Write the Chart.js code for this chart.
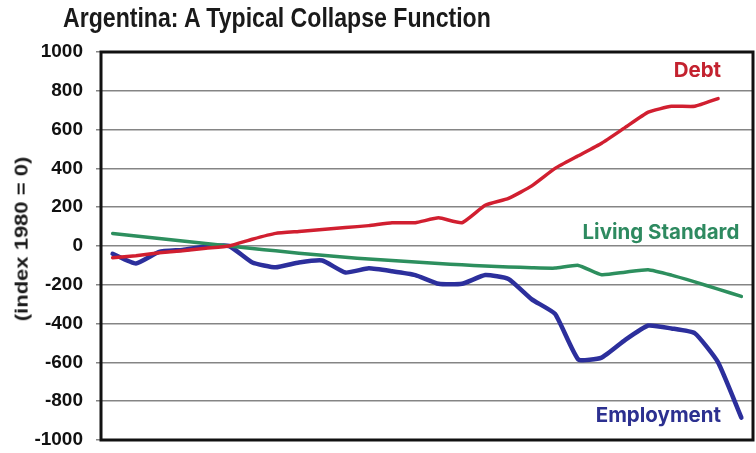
<!DOCTYPE html>
<html>
<head>
<meta charset="utf-8">
<script src="https://cdn.jsdelivr.net/npm/chart.js@4.4.0/dist/chart.umd.min.js"></script>
<style>
  html, body { margin: 0; padding: 0; background: #fff; }
  #wrap { position: relative; width: 756px; height: 453px; }
  #title {
    position: absolute; left: 63px; top: 4px; margin: 0;
    font: bold 28px/28px "Liberation Sans", Arial, sans-serif;
    color: #1a1a1a; white-space: nowrap;
    transform: scaleX(0.825); transform-origin: 0 0;
  }
  #ytitle {
    position: absolute; left: 22px; top: 239px; width: 0; height: 0;
  }
  #ytitle span {
    position: absolute; left: 0; top: 0; white-space: nowrap;
    font: bold 22px/22px "Liberation Sans", Arial, sans-serif; color: #1a1a1a;
    transform: translate(-50%, -50%) rotate(-90deg) scaleY(0.8);
  }
</style>
</head>
<body>
<div id="wrap">
  <canvas id="myChart" width="756" height="453"></canvas>
  <h1 id="title">Argentina: A Typical Collapse Function</h1>
  <div id="ytitle"><span>(index 1980 = 0)</span></div>
</div>
<script>
// Years shown (index 1980 = 0), x axis has no visible labels
const years = [1975, 1976, 1977, 1978, 1979, 1980, 1981, 1982, 1983, 1984,
               1985, 1986, 1987, 1988, 1989, 1990, 1991, 1992, 1993, 1994,
               1995, 1996, 1997, 1998, 1999, 2000, 2001, 2002];

// Series
const debt = [-60, -50, -35, -25, -12, 0, 35, 65, 75, 85,
              95, 105, 120, 120, 145, 120, 210, 245, 310, 400,
              465, 530, 610, 690, 720, 720, 760];
const livingStandard = [65, 52, 39, 26, 13, 0, -13, -25, -37, -48,
                        -58, -67, -75, -83, -90, -97, -103, -108, -112, -114,
                        -100, -148, -135, -122, -150, -185, -222, -260];
const employment = [-40, -90, -30, -20, -3, 0, -85, -110, -85, -75,
                    -137, -115, -130, -150, -195, -195, -150, -170, -275, -350,
                    -585, -575, -485, -410, -425, -450, -600, -885];

const yTicks = [-1000, -800, -600, -400, -200, 0, 200, 400, 600, 800, 1000];

// Labels written next to the lines: [text, year, value, colour]
const lineLabels = [
  ["Debt", 2001, 905, "#c3222f"],
  ["Living Standard", 2002, 70, "#2e8a60"],
  ["Employment", 2001, -875, "#2c3090"]
];

// Draws the black frame and the series names
const framePlugin = {
  id: 'frame',
  afterDatasetsDraw(chart) {
    const { ctx, chartArea, scales } = chart;
    ctx.save();
    ctx.strokeStyle = '#111';
    ctx.lineWidth = 3;
    ctx.strokeRect(chartArea.left, chartArea.top,
                   chartArea.right - chartArea.left, chartArea.bottom - chartArea.top);
    ctx.font = 'bold 20.5px Inter, Roboto, sans-serif';
    ctx.textAlign = 'right';
    ctx.textBaseline = 'middle';
    lineLabels.forEach(([text, year, value, color]) => {
      ctx.fillStyle = color;
      ctx.fillText(text, scales.x.getPixelForValue(years.indexOf(year)) - (year === 2002 ? 2 : -3),
                   scales.y.getPixelForValue(value));
    });
    ctx.restore();
  }
};

const ctx = document.getElementById('myChart').getContext('2d');
new Chart(ctx, {
  type: 'line',
  data: {
    labels: years,
    datasets: [
      { label: 'Debt', data: debt, borderColor: '#d11f30' },
      { label: 'Living Standard', data: livingStandard, borderColor: '#2d8f5e' },
      { label: 'Employment', data: employment, borderColor: '#2c2f9c', borderWidth: 4.5 }
    ]
  },
  options: {
    responsive: false,
    animation: false,
    layout: { padding: { top: 52, bottom: 13, right: 3, left: 0 } },
    elements: {
      point: { radius: 0 },
      line: { borderWidth: 3.5, tension: 0.15, borderCapStyle: 'round', borderJoinStyle: 'round' }
    },
    plugins: {
      legend: { display: false },
      tooltip: { enabled: false }
    },
    scales: {
      x: {
        display: false,
        offset: true
      },
      y: {
        min: -1000,
        max: 1000,
        afterFit(scale) {
          scale.width = 101;
          scale.paddingTop = 11;
          scale.paddingBottom = 11;
        },
        afterBuildTicks(scale) { scale.ticks = yTicks.map(v => ({ value: v })); },
        border: { display: false },
        grid: { color: '#858585', lineWidth: 1.5, tickLength: 5 },
        ticks: {
          padding: 13,
          color: '#111',
          callback: value => String(value),
          font: { family: '"Liberation Sans", Arial, sans-serif', size: 19, weight: 'bold' }
        }
      }
    }
  },
  plugins: [framePlugin]
});
</script>
</body>
</html>
